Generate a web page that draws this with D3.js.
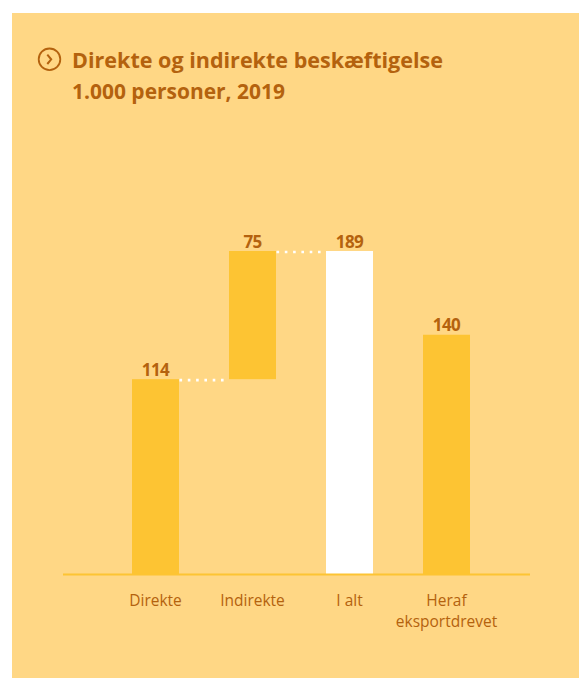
<!DOCTYPE html>
<html><head><meta charset="utf-8">
<script src="https://cdn.jsdelivr.net/npm/d3@7"></script>
<style>
html,body{margin:0;padding:0;background:#fff;}
svg{display:block;}
</style></head>
<body>
<svg id="chart" width="579" height="678"></svg>
<script>
const categories = ["Direkte", "Indirekte", "I alt", "Heraf\neksportdrevet"];
const values = [114, 75, 189, 140];
const bases = [0, 114, 0, 0];
const barColors = ["#FDC433", "#FDC433", "#FFFFFF", "#FDC433"];
const titleLines = ["Direkte og indirekte beskæftigelse", "1.000 personer, 2019"];

const W = 579, H = 678;
const txt = "#B4620E";
const svg = d3.select("#chart");
svg.append("rect").attr("x", 12).attr("y", 13).attr("width", W - 12).attr("height", H - 13).attr("fill", "#FFD785");

// title icon
svg.append("circle").attr("cx", 49.5).attr("cy", 59.3).attr("r", 10.8)
  .attr("fill", "none").attr("stroke", txt).attr("stroke-width", 1.8);
svg.append("path").attr("d", "M47.3,54.6 L51.2,59.3 L47.3,64")
  .attr("fill", "none").attr("stroke", txt).attr("stroke-width", 2);

const title = svg.append("text").attr("fill", txt).attr("font-family", "'Open Sans', sans-serif")
  .attr("font-weight", 700).attr("font-size", 21.5);
titleLines.forEach((t, i) => {
  title.append("tspan").attr("x", 72).attr("y", 68 + i * 30.5).text(t)
    .attr("textLength", i === 0 ? 371 : 213).attr("lengthAdjust", "spacingAndGlyphs");
});

const x = d3.scaleBand().domain(categories).range([107, 495]).paddingInner(50 / 97).paddingOuter(25 / 97);
const y = d3.scaleLinear().domain([0, 189]).range([574, 251]);

const g = svg.append("g");
g.selectAll("rect.bar").data(categories).enter().append("rect")
  .attr("class", "bar")
  .attr("x", d => x(d))
  .attr("width", x.bandwidth())
  .attr("y", (d, i) => y(bases[i] + values[i]))
  .attr("height", (d, i) => y(bases[i]) - y(bases[i] + values[i]))
  .attr("fill", (d, i) => barColors[i]);

// dotted connectors
const conn = [[0, 1, 114], [1, 2, 189]];
conn.forEach(([a, b, v]) => {
  g.append("line")
    .attr("x1", x(categories[a]) + x.bandwidth() + 0.5).attr("x2", x(categories[b]) - 1)
    .attr("y1", y(v) + 1).attr("y2", y(v) + 1)
    .attr("stroke", "#fff").attr("stroke-width", 2.6)
    .attr("stroke-dasharray", "2.6,5.7");
});

// value labels
g.selectAll("text.val").data(categories).enter().append("text")
  .attr("class", "val")
  .attr("x", d => x(d) + x.bandwidth() / 2)
  .attr("y", (d, i) => y(bases[i] + values[i]) - 3.5)
  .attr("text-anchor", "middle").attr("fill", txt)
  .attr("font-family", "'Open Sans', sans-serif").attr("font-weight", 700).attr("font-size", 17)
  .attr("letter-spacing", -0.6)
  .text((d, i) => values[i]);

// axis
const axis = d3.axisBottom(x).tickSize(0).tickPadding(0);
const ax = svg.append("g").attr("transform", "translate(0,574)").call(axis);
ax.select(".domain").remove();
svg.append("line").attr("x1", 63).attr("x2", 530).attr("y1", 574.5).attr("y2", 574.5)
  .attr("stroke", "#FDC433").attr("stroke-width", 2);
ax.selectAll(".tick text").each(function(d) {
  const t = d3.select(this);
  t.text(null).attr("y", 0).attr("dy", null)
    .attr("fill", txt).attr("font-family", "'Open Sans', sans-serif").attr("font-size", 15.5);
  d.split("\n").forEach((line, i) => {
    t.append("tspan").attr("x", 0).attr("y", 31.5 + i * 21.5).text(line);
  });
});
</script>
</body></html>
